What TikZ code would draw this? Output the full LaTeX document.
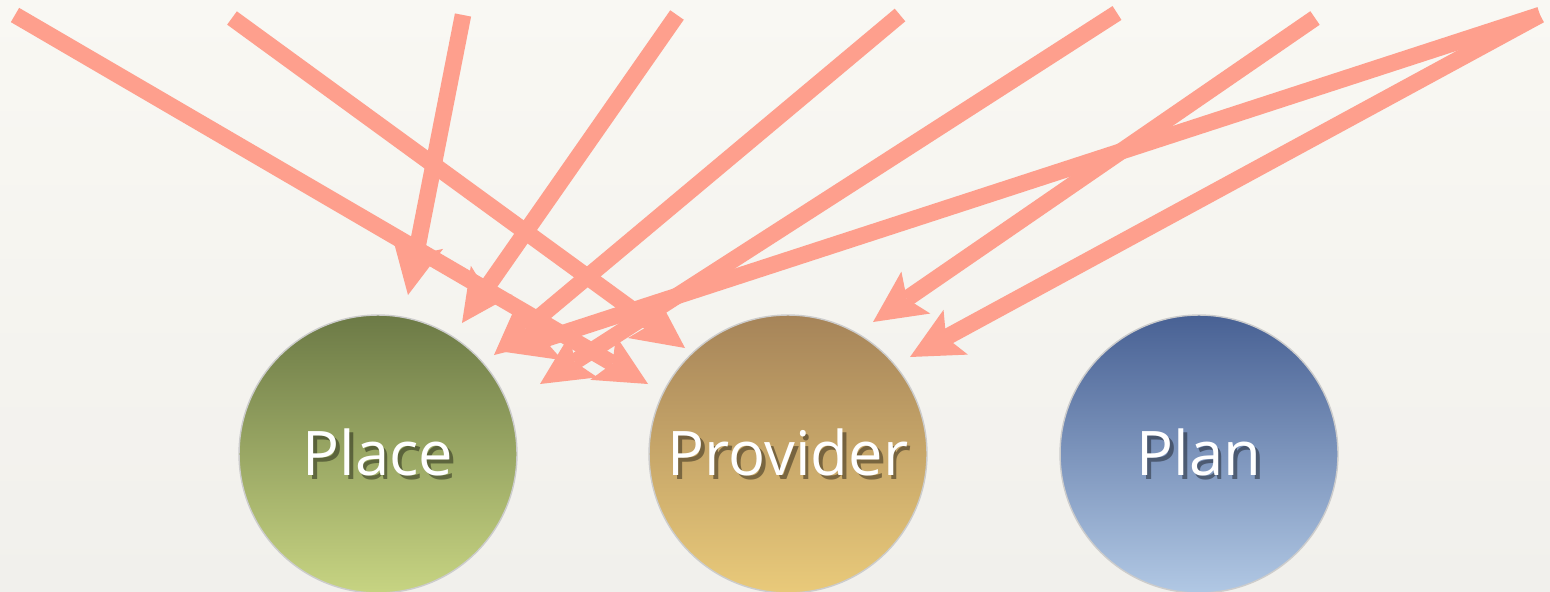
\documentclass[tikz,border=0pt]{standalone}
\usepackage{fontspec}
\newfontfamily\bubblefont{Open Sans}
\usetikzlibrary{%
  arrows.meta,% wg. Stealth
  shadings%
}

\definecolor{arrowpink}{RGB}{254,159,141}
\definecolor{bgtop}{RGB}{249,248,243}
\definecolor{bgbot}{RGB}{241,240,236}
\definecolor{placetop}{RGB}{108,122,70}
\definecolor{placebot}{RGB}{199,212,130}
\definecolor{provtop}{RGB}{166,132,89}
\definecolor{provbot}{RGB}{233,202,122}
\definecolor{plantop}{RGB}{72,97,148}
\definecolor{planbot}{RGB}{177,200,228}

% white label with a soft dark shadow
\newcommand{\softshadow}[1]{%
  \makebox[0pt][l]{\hspace{2pt}\raisebox{-2.3pt}{\pgfsetfillopacity{0.4}\textcolor{black}{#1}\pgfsetfillopacity{1}}}#1}

\tikzset{
  bubble/.style={circle, minimum size=5.56cm, inner sep=0pt, draw=black!20, line width=0.8pt,
    text=white, font=\bubblefont\fontsize{35}{40}\selectfont},
  link/.style={draw=arrowpink, line width=0.33cm,
    -{Stealth[length=1.04cm, width=1.02cm, inset=0.22cm, line width=0pt]}}
}

\begin{document}
\begin{tikzpicture}[x=0.02cm, y=-0.02cm]
\useasboundingbox (0,0) rectangle (1550,591);
\fill[top color=bgtop, bottom color=bgbot] (0,0) rectangle (1550,591);

%the three circles
\node[bubble, top color=placetop, bottom color=placebot] (place) at (378,454) {\softshadow{Place}};
\node[bubble, top color=provtop, bottom color=provbot] (provider) at (788,454) {\softshadow{Provider}};
\node[bubble, top color=plantop, bottom color=planbot] (plan) at (1199,454) {\softshadow{Plan}};

% loose ends at the top
\coordinate (s1) at (15,15);
\coordinate (s2) at (232,18);
\coordinate (s3) at (463,15);
\coordinate (s4) at (677,15);
\coordinate (s5) at (900,15);
\coordinate (s6) at (1117,13);
\coordinate (s7) at (1315,18);
\coordinate (s8) at (1540,15);

% arrow tips above the circles
\coordinate (t1) at (648,384);
\coordinate (t2) at (685,348);
\coordinate (t3) at (408,295);
\coordinate (t4) at (462,323);
\coordinate (t5) at (494,355);
\coordinate (t6) at (540,384);
\coordinate (t7) at (873,322);
\coordinate (t8) at (505,352);
\coordinate (t9) at (910,357);

\draw[link] (s1) -- (t1);
\draw[link] (s2) -- (t2);
\draw[link] (s3) -- (t3);
\draw[link] (s4) -- (t4);
\draw[link] (s5) -- (t5);
\draw[link] (s6) -- (t6);
\draw[link] (s7) -- (t7);
\draw[link] (s8) -- (t8);
\draw[link] (s8) -- (t9);
\end{tikzpicture}
\end{document}
